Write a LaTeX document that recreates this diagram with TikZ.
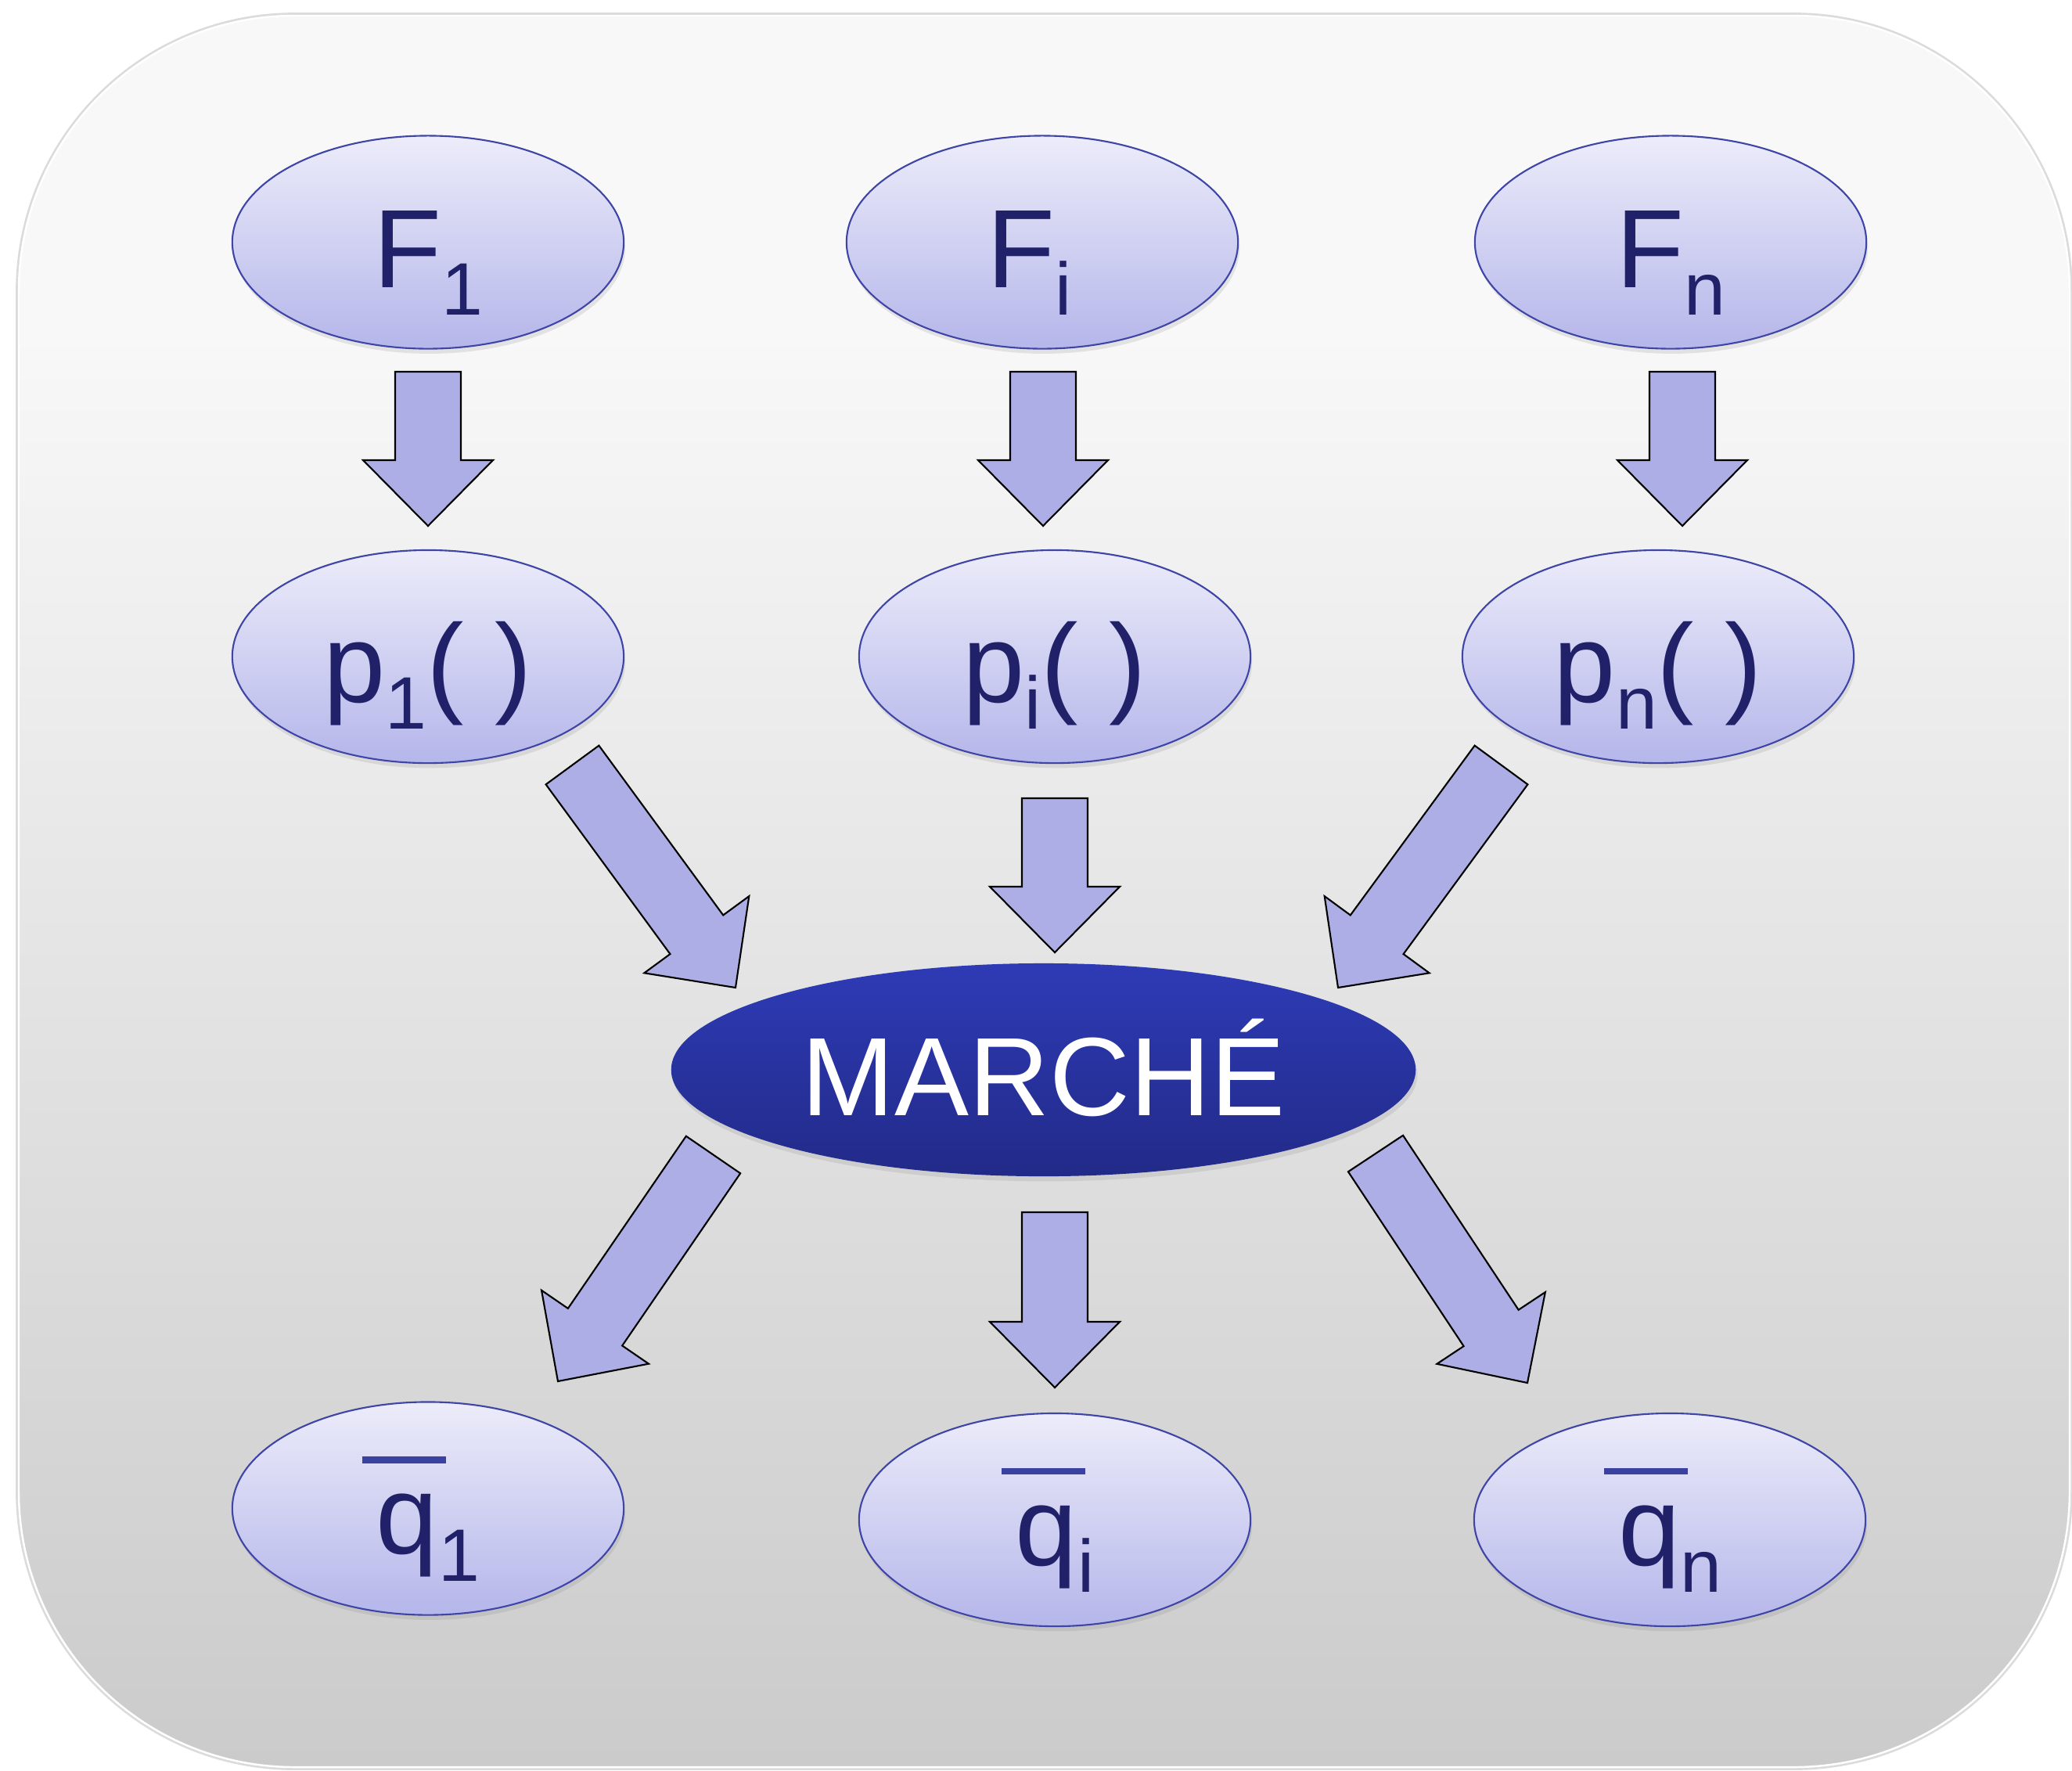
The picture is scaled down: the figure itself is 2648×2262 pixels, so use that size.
\documentclass[tikz,border=0pt]{standalone}
\usepackage{fontspec}
\setmainfont{Liberation Sans}
\usetikzlibrary{shapes.geometric,calc,shadows}
\definecolor{ovtop}{HTML}{ECECFA}
\definecolor{ovbot}{HTML}{B5B6EA}
\definecolor{ovline}{HTML}{3F45A6}
\definecolor{inkc}{HTML}{21216A}
\definecolor{barblue}{HTML}{3B41A0}
\definecolor{arrfill}{HTML}{ADAEE5}
\definecolor{mtop}{HTML}{2E3BB6}
\definecolor{mbot}{HTML}{222A88}
\definecolor{bgtop}{HTML}{F8F8F8}
\definecolor{bgbot}{HTML}{CBCBCB}

\pgfdeclareverticalshading{bgshade}{100bp}{color(0bp)=(bgbot); color(25bp)=(bgbot); color(66bp)=(bgtop); color(100bp)=(bgtop)}

\newcommand\bigfont{\fontsize{40.5}{40.5}\selectfont}
\newcommand\subx[1]{\raisebox{-9.8pt}{\fontsize{27}{27}\selectfont #1}}
\newcommand\qbar{\makebox[0pt][l]{\hspace{-5.1pt}\raisebox{33pt}{\color{barblue}\rule{30.4pt}{2.3pt}}}}

\tikzset{
  oval/.style={ellipse, draw=ovline, line width=0.6pt, top color=ovtop, bottom color=ovbot,
    minimum width=5cm, minimum height=2.72cm, inner sep=0pt, text=inkc, font=\bigfont,
    text height=36pt, text depth=3pt,
    drop shadow={opacity=0.18, shadow xshift=0.6pt, shadow yshift=-1.8pt}},
  market/.style={oval, draw=none, top color=mtop, bottom color=mbot, text=white,
    minimum width=9.51cm},
  fatarrowstyle/.style={draw=black, line width=0.6pt, fill=arrfill, line join=miter},
  bgbox/.style={rounded corners=3.52cm},
}

\newcommand\fatarrow[2]{%
  \draw[fatarrowstyle] let \p1=(#1), \p2=(#2), \n1={atan2(\y2-\y1,\x2-\x1)} in
    ($(#1)+(\n1+90:0.42cm)$) --
    ($(#2)+(\n1+180:0.84cm)+(\n1+90:0.42cm)$) --
    ($(#2)+(\n1+180:0.84cm)+(\n1+90:0.83cm)$) --
    (#2) --
    ($(#2)+(\n1+180:0.84cm)+(\n1-90:0.83cm)$) --
    ($(#2)+(\n1+180:0.84cm)+(\n1-90:0.42cm)$) --
    ($(#1)+(\n1-90:0.42cm)$) -- cycle;
}

\begin{document}
\begin{tikzpicture}[x=0.01cm, y=-0.01cm]
\useasboundingbox (0,0) rectangle (2648,2262);
\fill[white] (0,0) rectangle (2648,2262);
% background panel
\draw[bgbox, black!14, line width=2.2pt] (24,20) rectangle (2645,2258);
\draw[bgbox, white, line width=0.7pt, shading=bgshade]
  (24,20) rectangle (2645,2258);

% nodes
\node[oval] (F1) at (547,309.5) {F\subx{1}};
\node[oval] (Fi) at (1332,309.5) {F\subx{i}\kern9.6pt};
\node[oval] (Fn) at (2135,309.5) {F\subx{n}};
\node[oval] (P1) at (547,839) {p\subx{1}( )};
\node[oval] (Pi) at (1348,839) {p\subx{i}( )};
\node[oval] (Pn) at (2119,839) {p\subx{n}( )};
\node[market] (M) at (1333.5,1367) {MARCHÉ};
\node[oval] (Q1) at (547,1927.5) {\qbar q\subx{1}};
\node[oval] (Qi) at (1348,1942) {\qbar q\subx{i}};
\node[oval] (Qn) at (2134,1942) {\qbar q\subx{n}};

% arrow ends
\coordinate (a1s) at (547,475);    \coordinate (a1e) at (547,672);
\coordinate (a2s) at (1333,475);   \coordinate (a2e) at (1333,672);
\coordinate (a3s) at (2150,475);   \coordinate (a3e) at (2150,672);
\coordinate (a4s) at (731.5,977.5); \coordinate (a4e) at (940,1262);
\coordinate (a5s) at (1348,1020);  \coordinate (a5e) at (1348,1217);
\coordinate (a6s) at (1918.5,977.5); \coordinate (a6e) at (1710,1262);
\coordinate (a7s) at (911.5,1475.5); \coordinate (a7e) at (713,1765);
\coordinate (a8s) at (1348,1549);  \coordinate (a8e) at (1348,1773);
\coordinate (a9s) at (1758,1474);  \coordinate (a9e) at (1952,1767);

\fatarrow{a1s}{a1e}
\fatarrow{a2s}{a2e}
\fatarrow{a3s}{a3e}
\fatarrow{a4s}{a4e}
\fatarrow{a5s}{a5e}
\fatarrow{a6s}{a6e}
\fatarrow{a7s}{a7e}
\fatarrow{a8s}{a8e}
\fatarrow{a9s}{a9e}
\end{tikzpicture}
\end{document}
